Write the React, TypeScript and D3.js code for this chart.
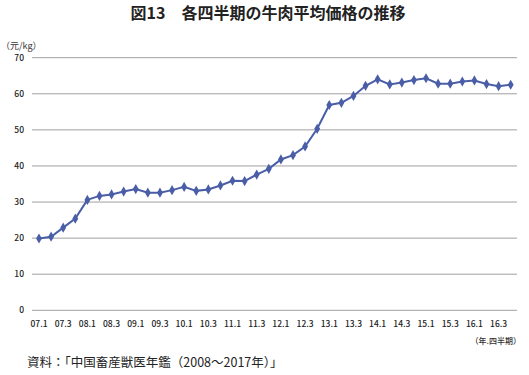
import React from "react";
import * as d3 from "d3";

const quarters: string[] = [];
for (let y = 7; y <= 16; y++) for (let q = 1; q <= 4; q++) quarters.push(`${String(y).padStart(2, "0")}.${q}`);

const prices = [
  19.9, 20.4, 22.9, 25.4, 30.6, 31.7, 32.1, 32.9, 33.6, 32.6,
  32.6, 33.3, 34.2, 33.1, 33.5, 34.6, 35.9, 35.8, 37.6, 39.2,
  41.8, 43.0, 45.4, 50.3, 56.9, 57.5, 59.4, 62.2, 64.0, 62.6,
  63.1, 63.8, 64.3, 62.8, 62.8, 63.4, 63.7, 62.7, 62.1, 62.5,
];
const yTicks = [0, 10, 20, 30, 40, 50, 60, 70];

export default function App() {
  const W = 529, H = 375;
  const gridL = 32, gridR = 517;
  const x = d3.scaleLinear().domain([0, quarters.length - 1]).range([39, 510.7]);
  const y = d3.scaleLinear().domain([0, 70]).range([310.3, 57.7]);
  const line = d3.line<number>().x((_, i) => x(i)).y((d) => y(d));
  const font = "'Noto Sans CJK JP', 'Noto Sans', sans-serif";
  const diamond = d3.symbol(d3.symbolDiamond, 30)()!;
  return (
    <svg width={W} height={H} style={{ position: "absolute", left: 0, top: 0, background: "#fff" }} fontFamily={font}>
      <text x={268} y={19} textAnchor="middle" fontSize={16} fontWeight="bold" fill="#222">図13　各四半期の牛肉平均価格の推移</text>
      <text x={1} y={49} fontSize={9} fill="#333">（元/kg）</text>
      {yTicks.map((t) => (
        <g key={t}>
          <line x1={gridL} x2={gridR} y1={y(t)} y2={y(t)} stroke="#a0a0a0" strokeWidth={1} />
          <text x={24} y={y(t) + 3} textAnchor="end" fontSize={8.5} fontWeight={500} fill="#222">{t}</text>
        </g>
      ))}
      {quarters.map((q, i) => (i % 2 === 0 ? (
        <text key={q} x={x(i)} y={327} textAnchor="middle" fontSize={8.5} fontWeight={500} fill="#222">{q}</text>
      ) : null))}
      <text x={521} y={344} textAnchor="end" fontSize={8} fontWeight={500} fill="#333">（年.四半期）</text>
      <path d={line(prices)!} fill="none" stroke="#4a5ea8" strokeWidth={2} />
      {prices.map((p, i) => (
        <path key={i} d={diamond} transform={`translate(${x(i)},${y(p)})`} fill="#4a5ea8" />
      ))}
      <text x={27} y={367} fontSize={12.5} fill="#222">資料：「中国畜産獣医年鑑（2008～2017年）」</text>
    </svg>
  );
}
